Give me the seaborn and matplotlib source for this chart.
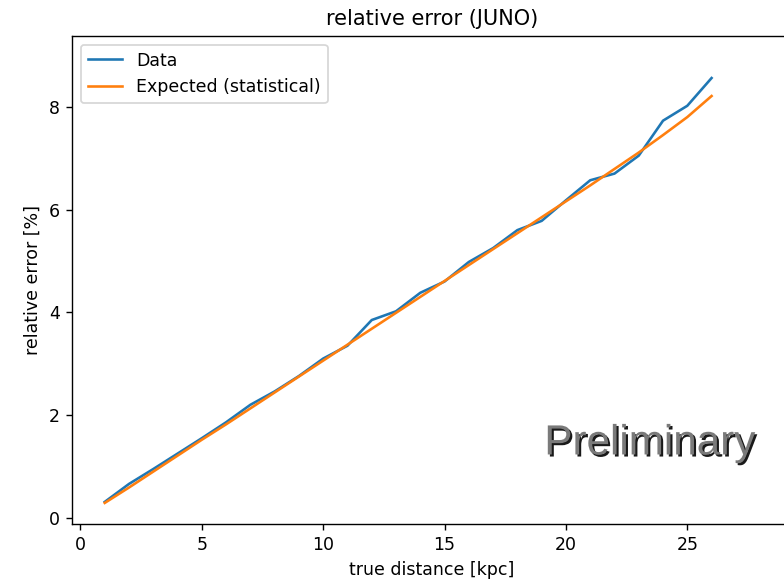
import matplotlib
matplotlib.use("Agg")
import matplotlib.pyplot as plt
import matplotlib.patheffects as pe
import seaborn as sns
import pandas as pd

distance = list(range(1, 27))
data_err = [0.31, 0.66, 0.95, 1.25, 1.55, 1.86, 2.20, 2.46, 2.76, 3.10,
            3.35, 3.85, 4.02, 4.38, 4.60, 4.98, 5.25, 5.60, 5.78, 6.18,
            6.57, 6.70, 7.05, 7.73, 8.02, 8.56]
expected_err = [0.29, 0.59, 0.90, 1.21, 1.52, 1.82, 2.13, 2.44, 2.75, 3.06,
                3.37, 3.68, 3.99, 4.30, 4.61, 4.92, 5.23, 5.54, 5.85, 6.16,
                6.47, 6.79, 7.11, 7.45, 7.80, 8.21]

df = pd.DataFrame({"distance": distance, "data": data_err, "expected": expected_err})

DPI = 125
fig = plt.figure(figsize=(784 / DPI, 579 / DPI), dpi=DPI)
ax = fig.add_axes([0.0918, 0.095, 0.918, 0.843])

sns.lineplot(data=df, x="distance", y="data", ax=ax, color="#1f77b4", label="Data", linewidth=1.5)
sns.lineplot(data=df, x="distance", y="expected", ax=ax, color="#ff7f0e",
             label="Expected (statistical)", linewidth=1.5)

ax.set_xlim(-0.35, 29.3)
ax.set_ylim(-0.12, 9.38)
ax.set_xticks([0, 5, 10, 15, 20, 25])
ax.set_yticks([0, 2, 4, 6, 8])
ax.set_xlabel("true distance [kpc]")
ax.set_ylabel("relative error [%]")
ax.set_title("relative error (JUNO)")
ax.legend(loc="upper left")

ax.text(0.803, 0.165, "Preliminary", transform=ax.transAxes, ha="center", va="center",
        fontsize=24.3, color="#7a7a7a", family="Liberation Sans",
        path_effects=[pe.SimplePatchShadow(offset=(1.2, -1.2), shadow_rgbFace="black", alpha=0.9),
                      pe.Normal()])

fig.savefig("out.png", dpi=DPI)
